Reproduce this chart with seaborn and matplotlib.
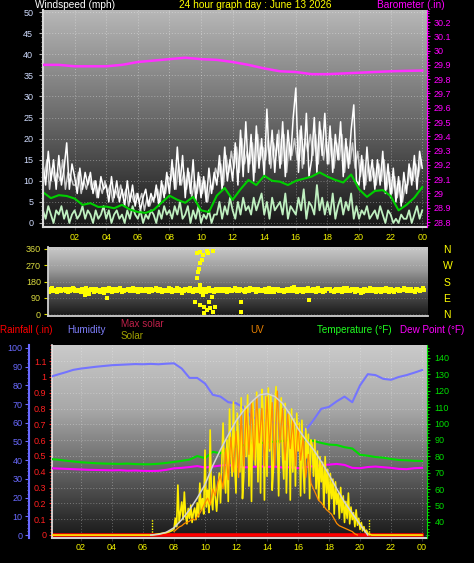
import numpy as np
import pandas as pd
import matplotlib
matplotlib.use("Agg")
import matplotlib.pyplot as plt
from matplotlib.colors import LinearSegmentedColormap
from matplotlib.ticker import MultipleLocator, FixedLocator, FormatStrFormatter
import seaborn as sns

plt.rcParams['font.family'] = ['Liberation Sans', 'DejaVu Sans']

# ---- wind, 10 minute samples from midnight (mph) ----
gust = [14, 9, 17, 10, 15, 8,
        16, 9, 13, 19, 8, 14,
        11, 7, 13, 8, 12, 9,
        12, 7, 10, 6, 11, 8,
        9, 5, 11, 6, 10, 5,
        8, 4, 10, 5, 9, 4,
        7, 3, 6, 8, 4, 7,
        5, 9, 4, 10, 6, 12,
        7, 15, 8, 18, 9, 16,
        6, 13, 7, 15, 5, 12,
        6, 11, 5, 13, 7, 12,
        9, 16, 8, 18, 10, 15,
        10, 19, 9, 22, 11, 24,
        12, 21, 10, 23, 13, 20,
        11, 27, 14, 22, 12, 21,
        13, 24, 11, 22, 15, 25,
        32, 12, 23, 14, 26, 11,
        15, 25, 12, 24, 16, 26,
        14, 23, 12, 21, 15, 24,
        11, 20, 13, 22, 28, 10,
        9, 16, 8, 18, 10, 15,
        8, 15, 9, 17, 7, 14,
        6, 13, 5, 11, 4, 12,
        7, 14, 9, 16, 8, 17,
        13]
# light grey samples, 5 minutes after the white ones
gust_alt = [11, 15, 8, 13, 10, 12,
            10, 15, 8, 12, 11, 9,
            9, 12, 7, 10, 8, 11,
            8, 10, 6, 9, 7, 10,
            7, 9, 5, 8, 6, 9,
            6, 8, 4, 7, 5, 7,
            5, 7, 3, 6, 4, 6,
            6, 8, 5, 9, 7, 11,
            10, 13, 8, 14, 9, 12,
            8, 12, 6, 10, 7, 11,
            7, 10, 5, 9, 8, 13,
            11, 14, 9, 16, 12, 17,
            13, 18, 12, 20, 14, 17,
            14, 19, 12, 21, 15, 18,
            15, 20, 13, 19, 16, 22,
            14, 21, 12, 19, 16, 20,
            15, 22, 13, 20, 17, 21,
            16, 21, 14, 22, 15, 20,
            14, 20, 13, 19, 15, 21,
            12, 18, 14, 19, 13, 17,
            11, 15, 9, 14, 10, 13,
            9, 14, 10, 15, 8, 12,
            7, 11, 6, 10, 5, 9,
            9, 13, 10, 14, 11, 15]
speed = [3, 1, 4, 2, 0, 3,
         2, 4, 1, 3, 0, 2,
         3, 1, 2, 4, 1, 3,
         2, 0, 3, 1, 2, 4,
         1, 3, 0, 2, 3, 1,
         2, 0, 3, 1, 4, 2,
         1, 3, 0, 2, 1, 3,
         2, 0, 3, 1, 4, 2,
         3, 1, 4, 2, 5, 1,
         2, 4, 0, 3, 1, 4,
         0, 2, 1, 3, 0, 2,
         2, 5, 1, 4, 2, 6,
         3, 1, 5, 2, 6, 3,
         4, 2, 6, 3, 5, 7,
         2, 5, 1, 6, 3, 4,
         5, 2, 7, 1, 4, 3,
         2, 6, 3, 8, 1, 5,
         4, 2, 9, 3, 6, 2,
         5, 2, 7, 1, 4, 6,
         2, 5, 3, 7, 1, 4,
         1, 3, 2, 4, 1, 2,
         3, 1, 4, 2, 0, 3,
         2, 0, 1, 0, 2, 1,
         1, 3, 0, 2, 4, 1,
         3]
direction = [130, 138, 127, 135, 141, 129,
             133, 126, 139, 131, 136, 128,
             134, 140, 127, 110, 132, 137,
             129, 135, 124, 138, 131, 127,
             136, 130, 125, 139, 133, 128,
             131, 137, 126, 134, 140, 129,
             135, 128, 133, 138, 126, 132,
             130, 136, 129, 134, 127, 139,
             133, 127, 138, 131, 125, 136,
             129, 135, 132, 126, 140, 128,
             131, 137, 127, 134, 130, 138,
             126, 133, 139, 129, 135, 131,
             137, 128, 134, 130, 141, 127,
             132, 138, 126, 135, 129, 136,
             130, 124, 137, 133, 139, 128,
             135, 129, 136, 131, 126, 138,
             133, 127, 139, 130, 135, 128,
             131, 137, 126, 134, 129, 136,
             138, 130, 133, 127, 140, 132,
             129, 135, 131, 137, 126, 134,
             132, 138, 128, 135, 130, 136,
             127, 133, 139, 130, 136, 129,
             135, 131, 137, 128, 134, 140,
             130, 136, 129, 138, 132, 135,
             133]
# direction samples 5 minutes after the ones above
direction_alt = [124, 142, 131, 120, 137, 133,
                 140, 122, 129, 145, 127, 135,
                 121, 133, 143, 126, 139, 124,
                 141, 128, 134, 119, 136, 144,
                 123, 139, 129, 142, 120, 134,
                 138, 125, 143, 130, 122, 136,
                 127, 141, 120, 137, 131, 145,
                 139, 123, 135, 128, 143, 121,
                 126, 144, 130, 119, 138, 132,
                 142, 124, 136, 129, 121, 140,
                 123, 143, 131, 120, 137, 126,
                 141, 127, 122, 138, 130, 144,
                 125, 139, 132, 121, 136, 143,
                 138, 122, 140, 127, 133, 120,
                 143, 131, 121, 139, 126, 135,
                 122, 140, 128, 144, 133, 124,
                 139, 121, 134, 142, 125, 137,
                 124, 143, 130, 120, 138, 141,
                 128, 122, 140, 135, 123, 144,
                 142, 125, 137, 121, 139, 130,
                 123, 141, 126, 143, 129, 120,
                 138, 124, 132, 144, 122, 137,
                 121, 139, 127, 135, 143, 125,
                 140, 128, 122, 137, 126, 142]
# stray direction readings
odd_dir_hours = [2.36, 2.6, 3.74, 9.38, 9.49, 9.49, 9.59, 9.66, 9.70, 9.70, 9.70,
                 9.70, 9.81, 9.81, 9.91, 9.91, 9.96, 9.96, 10.13, 10.13, 10.23, 10.23,
                 10.30, 10.34, 10.45, 10.55, 10.55, 10.66, 12.3, 12.3, 15.7, 16.65, 20.0]
odd_dir = [105, 110, 87, 68, 336, 198, 234, 247, 345, 281, 161,
           50, 124, 299, 327, 105, 41, 7, 351, 22, 336, 133,
           68, 31, 96, 351, 13, 41, 68, 13, 151, 78, 116]
# half-hourly average wind
avg_speed = [7.3, 5.9, 6.6, 6.4, 5.8, 4.3, 4.7, 3.8, 3.9, 3.5, 4.3, 3.2,
             2.6, 2.4, 3.1, 4.8, 6.5, 5.5, 4.8, 6.2, 3.0, 2.6, 6.5, 8.3,
             5.5, 8.0, 10.2, 9.0, 11.2, 10.0, 9.8, 9.0, 10.0, 10.5, 11.0, 12.0,
             11.0, 10.2, 9.6, 11.5, 8.0, 6.2, 7.6, 7.8, 6.4, 3.0, 4.3, 6.0,
             8.5]
# hourly barometer (in)
baro = [29.90, 29.90, 29.89, 29.89, 29.89, 29.90, 29.92, 29.93, 29.94, 29.95,
        29.94, 29.935, 29.92, 29.90, 29.875, 29.855, 29.85, 29.835, 29.835,
        29.84, 29.845, 29.85, 29.855, 29.858, 29.86]

# ---- half-hourly temperature, dew point (F) and humidity (%) ----
temp = [78.4, 78.0, 77.4, 76.9, 76.4, 76.1, 75.8, 75.6, 75.5, 75.4, 75.6, 75.3,
        75.2, 75.2, 75.5, 76.0, 76.6, 77.3, 78.0, 80.2, 78.9, 82.8, 81.9, 84.8,
        86.0, 86.8, 88.2, 88.0, 88.6, 89.0, 89.4, 90.0, 90.6, 90.2, 89.4, 88.2,
        87.2, 86.9, 85.6, 84.8, 81.0, 80.4, 79.6, 79.2, 78.4, 77.8, 77.6, 77.3,
        77.2]
dew = [72.8, 72.6, 72.4, 72.2, 72.0, 71.8, 71.7, 71.6, 71.5, 71.6, 71.3, 71.4,
       71.2, 71.1, 71.2, 71.8, 72.7, 73.0, 73.5, 74.1, 73.2, 73.8, 74.4, 74.8,
       73.8, 73.3, 73.5, 74.0, 73.6, 73.8, 73.2, 73.4, 72.8, 73.5, 74.0, 74.6,
       75.0, 75.4, 74.8, 73.0, 72.8, 73.5, 73.8, 73.4, 73.0, 72.4, 72.2, 72.8,
       73.0]
humidity = [84.5, 85.8, 87.0, 88.3, 89.0, 89.5, 90.0, 90.4, 90.8, 91.0, 91.2, 91.4,
            91.3, 91.5, 91.3, 91.6, 91.8, 89.0, 84.0, 84.0, 81.0, 75.0, 74.0, 71.0,
            70.5, 68.0, 63.0, 62.0, 61.0, 60.0, 59.0, 58.0, 57.0, 56.0, 61.5, 67.5,
            68.5, 71.5, 74.0, 71.0, 80.0, 86.0, 85.5, 83.5, 83.0, 84.5, 85.5, 86.8,
            88.2]

# ---- solar (W/m2), 5 minute samples from 06:30 ----
solar = [0, 0, 2, 3, 5, 6,
         8, 9, 11, 12, 14, 15, 17, 20, 22, 26, 30, 35,
         45, 120, 60, 357, 90, 160, 236, 110, 307, 140, 80, 190,
         120, 214, 90, 160, 193, 110, 230, 130, 371, 180, 260, 150,
         607, 200, 321, 160, 750, 260, 180, 420, 271, 170, 300, 443,
         230, 520, 800, 420, 300, 680, 240, 900, 600, 420, 950, 500,
         300, 870, 650, 450, 980, 260, 420, 920, 560, 1000, 350, 780,
         240, 960, 700, 500, 1020, 380, 900, 300, 1040, 880, 250, 990,
         420, 1050, 600, 1000, 320, 480, 930, 1060, 700, 280, 850, 980,
         560, 400, 940, 300, 620, 880, 250, 900, 450, 830, 350, 870,
         600, 800, 280, 820, 480, 300, 760, 550, 720, 260, 680, 640,
         420, 680, 330, 600, 250, 560, 380, 520, 200, 560, 300, 470,
         180, 440, 260, 400, 150, 380, 220, 300, 120, 340, 160, 280,
         90, 240, 120, 300, 80, 200, 110, 160, 60, 180, 70, 120,
         40, 90, 30, 60, 20, 35, 12, 8, 4, 0]
# half-hourly theoretical max solar from 06:30
max_solar = [0, 5, 20, 52, 110, 180, 265, 360, 495, 610, 715, 815, 890, 950,
             1000, 1010, 990, 940, 860, 760, 680, 610, 525, 430, 330, 235, 155,
             75, 0]
# UV index, 10 minute samples from 08:00
uv = [0.3, 0.5, 0.7, 0.8, 1.0, 1.1,
      1.2, 1.4, 1.3, 1.6, 1.9, 2.3,
      2.8, 3.2, 2.6, 4.0, 3.4, 4.6,
      5.2, 4.0, 7.5, 4.8, 8.5, 5.5,
      9.0, 5.0, 10.5, 6.0, 11.0, 7.0,
      11.5, 6.5, 12.0, 8.0, 11.0, 6.0,
      12.0, 7.5, 11.5, 6.0, 12.5, 8.0,
      11.0, 6.5, 10.5, 7.5, 10.0, 6.0,
      9.5, 6.5, 8.5, 5.0, 7.0, 4.5,
      4.0, 3.5, 3.0, 2.8, 2.5, 2.2,
      2.0, 1.8, 1.4, 1.0, 0.8, 0.7,
      0.6, 0.5, 0.4, 0.3, 0.1, 0.0]
rain_hours = [0.0, 24.0]
rain = [0.0, 0.0]
sun_times = [6.6, 20.6]

hour_ticks = list(range(2, 25, 2))
hour_labels = ['02', '04', '06', '08', '10', '12', '14', '16', '18', '20', '22', '00']
dir_ticks = [0, 90, 180, 270, 360]
compass = ['N', 'E', 'S', 'W', 'N']

# sample times (hours)
wind = pd.DataFrame({'hour': np.arange(len(gust)) / 6, 'gust': gust,
                     'speed': speed, 'direction': direction})
t_alt = np.arange(len(gust_alt)) / 6 + 1 / 12
t_half = np.arange(len(avg_speed)) / 2
t_baro = np.arange(len(baro))
t_solar = np.concatenate([[0.0], 6.5 + np.arange(len(solar)) / 12, [24.0]])
solar_day = [0] + solar + [0]
t_max = 6.5 + np.arange(len(max_solar)) / 2
t_uv = 8 + np.arange(len(uv)) / 6

W, H = 474, 563
fig = plt.figure(figsize=(W / 100, H / 100), dpi=100, facecolor='black')


def px_axes(l, t, r, b):
    return fig.add_axes([l / W, 1 - b / H, (r - l) / W, (b - t) / H])


def shade(ax, cols):
    g = np.linspace(0, 1, 256).reshape(-1, 1)
    cmap = LinearSegmentedColormap.from_list('bg', cols)
    ax.imshow(g, cmap=cmap, aspect='auto', extent=[0, 1, 0, 1], origin='lower',
              transform=ax.transAxes, zorder=0, interpolation='bilinear')


def bare(ax):
    for sp in ax.spines.values():
        sp.set_visible(False)
    ax.set_yticks([])
    ax.set_ylabel('')


dots = (0, (1, 2))
FS = 6.5
YEL = '#f4f400'

# ================= windspeed / barometer =================
ax1 = px_axes(43, 10, 427, 227)
shade(ax1, ['#161616', '#6a6a6a', '#b8b8b8'])
sns.lineplot(x=t_alt, y=gust_alt, ax=ax1, color='#c8c8c8', linewidth=1.1, legend=False)
sns.lineplot(data=wind, x='hour', y='gust', ax=ax1, color='white', linewidth=1.1, legend=False)
sns.lineplot(data=wind, x='hour', y='speed', ax=ax1, color='#bff0c0', linewidth=1.3, legend=False)
sns.lineplot(x=t_half, y=avg_speed, ax=ax1, color='#00d000', linewidth=1.5, legend=False)
ax1.set_xlim(0, 24.3)
ax1.set_ylim(-0.95, 50.5)
ax1.set_xlabel('')
ax1.set_ylabel('')
ax1.set_yticks(range(0, 51, 5))
ax1.yaxis.set_minor_locator(MultipleLocator(1))
ax1.xaxis.set_major_locator(FixedLocator(hour_ticks))
ax1.set_xticklabels(hour_labels)
ax1.tick_params(axis='y', which='both', colors='#b0b0b0', labelcolor='#d0dcff',
                labelsize=FS, length=3, pad=4, left=True)
ax1.tick_params(axis='y', which='minor', length=1.5)
ax1.tick_params(axis='x', colors='#303030', labelcolor=YEL, labelsize=FS,
                length=2, pad=2, bottom=True)
ax1.grid(True, color='white', alpha=0.35, linestyle=dots, linewidth=0.7)
ax1.set_axisbelow(True)
for side in ['top', 'right']:
    ax1.spines[side].set_visible(False)
for side in ['left', 'bottom']:
    ax1.spines[side].set_color('#d8d8d8')
    ax1.spines[side].set_linewidth(1.5)

ax1b = ax1.twinx()
sns.lineplot(x=t_baro, y=baro, ax=ax1b, color='#ff30ff', linewidth=1.8, legend=False)
ax1b.set_ylim(28.765, 30.284)
ax1b.set_ylabel('')
ax1b.set_yticks(np.round(np.arange(28.8, 30.25, 0.1), 1))
ax1b.yaxis.set_major_formatter(FormatStrFormatter('%g'))
ax1b.yaxis.set_minor_locator(MultipleLocator(0.02))
ax1b.tick_params(axis='y', which='both', colors='#ff00ff', labelsize=FS, length=2, pad=2.5)
ax1b.tick_params(axis='y', which='minor', length=1.2)
for side in ['top', 'left', 'bottom']:
    ax1b.spines[side].set_visible(False)
ax1b.spines['right'].set_color('#ff00ff')

fig.text(35 / W, 1 - 4.5 / H, 'Windspeed (mph)', color='white', fontsize=7.3,
         ha='left', va='center')
fig.text(255 / W, 1 - 4.5 / H, '24 hour graph day : June 13 2026', color='#ffff00',
         fontsize=7.3, ha='center', va='center')
fig.text(377 / W, 1 - 4.5 / H, 'Barometer (.in)', color='#ff00ff', fontsize=7.3,
         ha='left', va='center')

# ================= wind direction =================
ax2 = px_axes(48, 247, 428, 316)
shade(ax2, ['#181818', '#505050', '#9a9a9a', '#cacaca'])
sns.scatterplot(x=t_alt, y=direction_alt, ax=ax2, color='#ffff00', marker='s',
                s=9, linewidth=0, legend=False)
sns.scatterplot(data=wind, x='hour', y='direction', ax=ax2, color='#ffff00', marker='s',
                s=9, linewidth=0, legend=False)
sns.scatterplot(x=odd_dir_hours, y=odd_dir, ax=ax2, color='#ffff00', marker='s',
                s=6, linewidth=0, legend=False)
ax2.set_xlim(0, 24.26)
ax2.set_ylim(-11, 371)
ax2.set_xlabel('')
ax2.set_ylabel('')
ax2.set_yticks(dir_ticks)
ax2.set_xticks([])
ax2.tick_params(axis='y', colors='#e0e000', labelcolor='#dcdc40', labelsize=FS,
                length=3, pad=2, left=True)
ax2.grid(True, axis='y', color='white', alpha=0.2, linestyle=dots, linewidth=0.7)
ax2.set_axisbelow(True)
for side in ['top', 'right']:
    ax2.spines[side].set_visible(False)
for side in ['left', 'bottom']:
    ax2.spines[side].set_color('#d0d0d0')
    ax2.spines[side].set_linewidth(1.3)
ax2b = ax2.twinx()
ax2b.set_ylim(ax2.get_ylim())
ax2b.set_yticks(dir_ticks)
ax2b.set_yticklabels(compass)
ax2b.tick_params(axis='y', colors='#ffff00', labelsize=7.5, length=0, pad=11)
for sp in ax2b.spines.values():
    sp.set_visible(False)

# ================= rain / humidity / solar / temperature =================
ax3 = px_axes(52, 345, 427, 538)
shade(ax3, ['#181818', '#606060', '#a8a8a8', '#cacaca'])
sns.lineplot(x=rain_hours, y=rain, ax=ax3, color='#ff0000', linewidth=2.6, legend=False)
ax3.set_xlim(0.13, 24.32)
ax3.set_ylim(-0.019, 1.2025)
ax3.set_xlabel('')
ax3.set_ylabel('')
ax3.set_yticks(np.round(np.arange(0, 1.15, 0.1), 1))
ax3.yaxis.set_major_formatter(FormatStrFormatter('%g'))
ax3.yaxis.set_minor_locator(MultipleLocator(0.02))
ax3.xaxis.set_major_locator(FixedLocator(hour_ticks))
ax3.set_xticklabels(hour_labels)
ax3.tick_params(axis='y', which='both', colors='#ff2020', labelsize=FS, length=2.5,
                pad=1.5, left=True)
ax3.tick_params(axis='y', which='minor', length=1.2)
ax3.tick_params(axis='x', colors='#303030', labelcolor=YEL, labelsize=FS, length=2,
                pad=1.5, bottom=True)
ax3.grid(True, color='white', alpha=0.3, linestyle=dots, linewidth=0.7)
ax3.set_axisbelow(True)
for side in ['top', 'right']:
    ax3.spines[side].set_visible(False)
ax3.spines['left'].set_color('#e8e8e8')
ax3.spines['bottom'].set_color('#d0d0d0')
ax3.spines['left'].set_linewidth(1.2)
ax3.spines['bottom'].set_linewidth(1.5)

ax3h = ax3.twinx()
sns.lineplot(x=t_half, y=humidity, ax=ax3h, color='#7474ff', linewidth=1.5, legend=False)
ax3h.set_ylim(-1.6, 101.6)
ax3h.set_ylabel('')
ax3h.yaxis.tick_left()
ax3h.set_yticks(range(0, 101, 10))
ax3h.yaxis.set_minor_locator(MultipleLocator(2))
ax3h.tick_params(axis='y', which='both', colors='#6a6aff', labelsize=FS, length=3, pad=1.5)
ax3h.tick_params(axis='y', which='minor', length=1.5)
for side in ['top', 'right', 'bottom']:
    ax3h.spines[side].set_visible(False)
ax3h.spines['left'].set_visible(True)
ax3h.spines['left'].set_position(('outward', 16.6))
ax3h.spines['left'].set_color('#6a6aff')
ax3h.spines['left'].set_linewidth(1.5)

ax3t = ax3.twinx()
sns.lineplot(x=t_half, y=temp, ax=ax3t, color='#00dd00', linewidth=1.5, legend=False)
sns.lineplot(x=t_half, y=dew, ax=ax3t, color='#ff00ff', linewidth=1.5, legend=False)
ax3t.set_ylim(30.24, 147.9)
ax3t.set_ylabel('')
ax3t.set_yticks(range(40, 141, 10))
ax3t.yaxis.set_minor_locator(MultipleLocator(2))
ax3t.tick_params(axis='y', which='both', colors='#00dd00', labelsize=FS, length=2.5, pad=3)
ax3t.tick_params(axis='y', which='minor', length=1.2)
for side in ['top', 'left', 'bottom']:
    ax3t.spines[side].set_visible(False)
ax3t.spines['right'].set_color('#00dd00')

ax3s = ax3.twinx()
sns.lineplot(x=t_solar, y=solar_day, ax=ax3s, color='#ffee00', linewidth=1.2, legend=False)
ax3s.vlines(sun_times, 0, 115, colors='#ffff00', linestyles=(0, (1, 1)), linewidth=1)
ax3s.set_ylim(-21, 1357)
bare(ax3s)

ax3u = ax3.twinx()
sns.lineplot(x=t_uv, y=uv, ax=ax3u, color='#ff8c00', linewidth=0.9, legend=False)
ax3u.set_ylim(-0.26, 16.5)
bare(ax3u)

ax3m = ax3.twinx()
sns.lineplot(x=t_max, y=max_solar, ax=ax3m, color='#d4d4d4', linewidth=1.1, legend=False)
ax3m.set_ylim(-21, 1357)
bare(ax3m)

legend_items = [
    (0, 330, 'Rainfall (.in)', '#ff0000'),
    (67, 330, 'Humidity', '#8080ff'),
    (121, 324, 'Max solar', '#c0204a'),
    (121, 336, 'Solar', '#a0a000'),
    (250, 330, 'UV', '#e88000'),
    (317, 330, 'Temperature (\u00b0F)', '#20ff20'),
    (400, 330, 'Dew Point (\u00b0F)', '#ff00ff'),
]
for x, y, txt, col in legend_items:
    fig.text(x / W, 1 - y / H, txt, color=col, fontsize=7.1, ha='left', va='center')

fig.savefig('out.png', dpi=100, facecolor='black')
